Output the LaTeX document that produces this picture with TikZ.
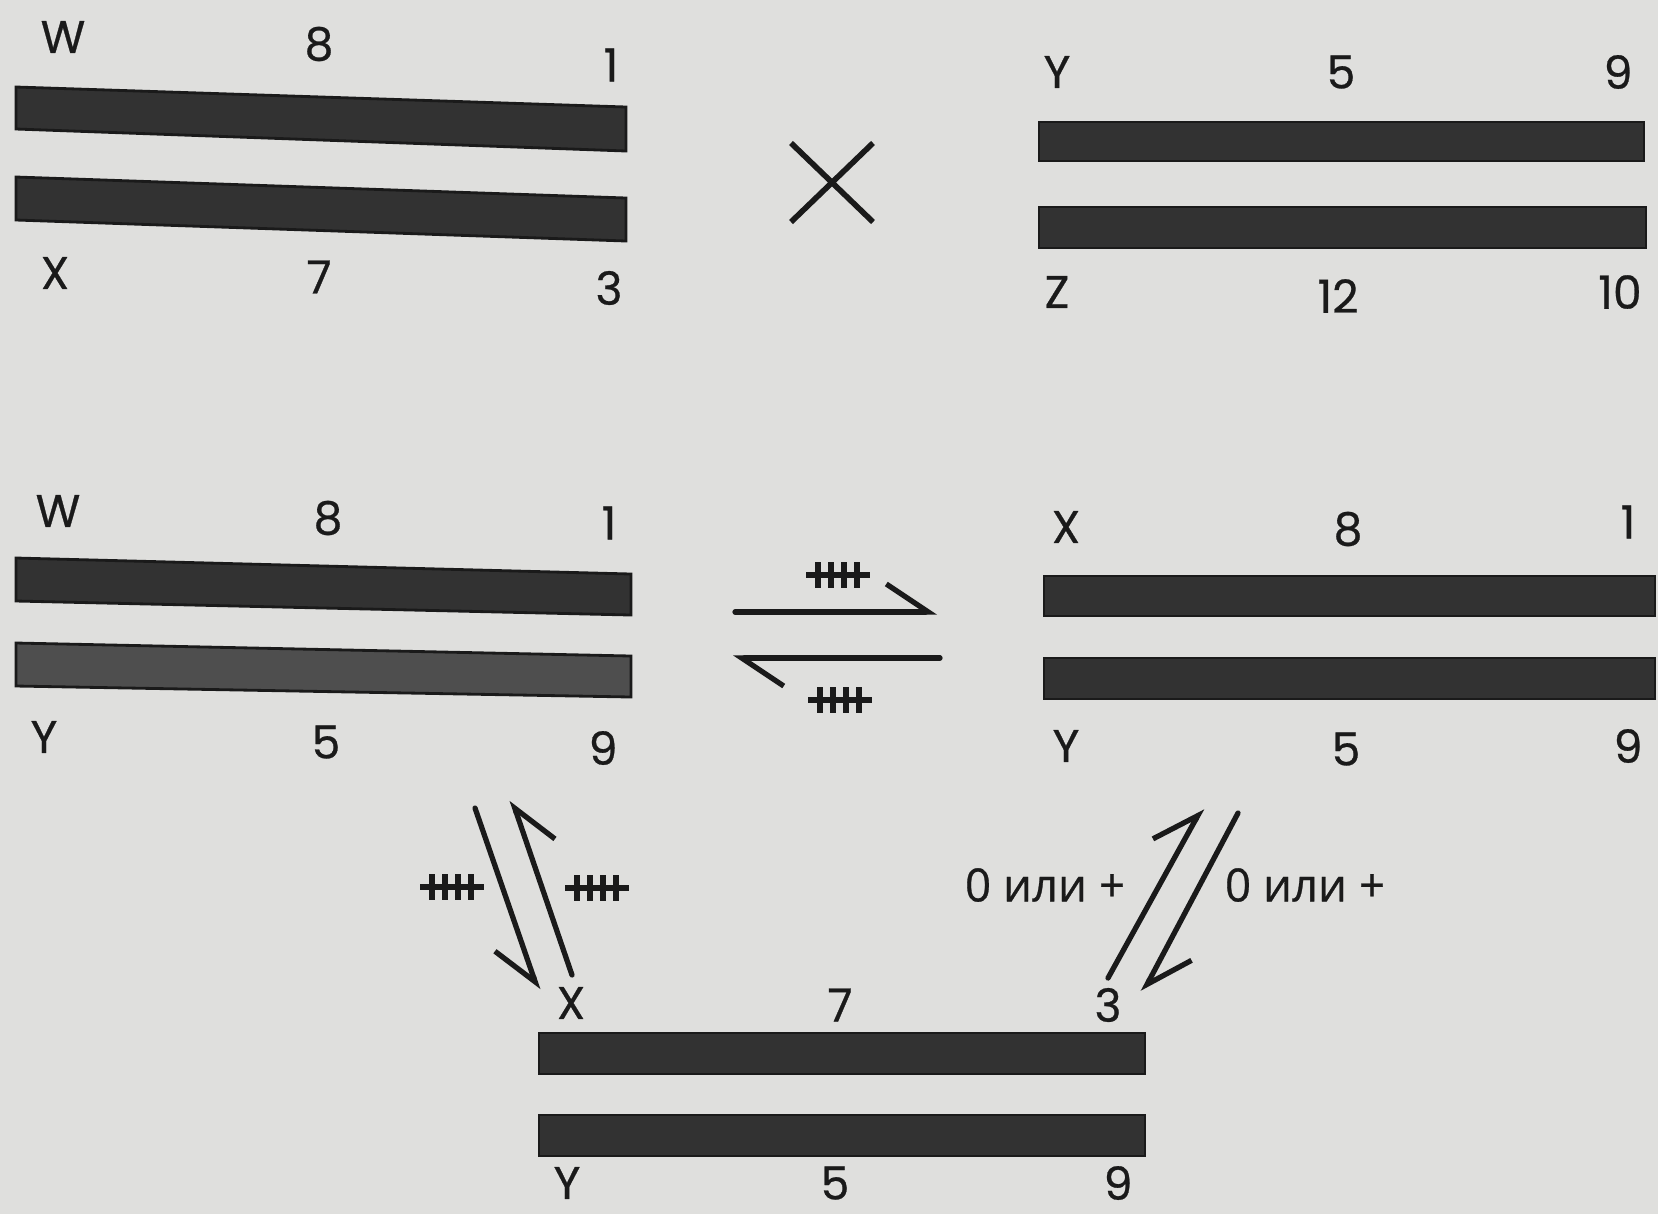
\documentclass[tikz,border=0pt]{standalone}
\usepackage{fontspec}
\setmainfont{Poppins}[FakeBold=0.6]
\newfontfamily\cyrfont{Open Sans}[FakeBold=0.6]
\usepackage{xcolor}
\usepackage{tikz}
\usetikzlibrary{arrows.meta}

\definecolor{paper}{RGB}{223,223,221}
\definecolor{ink}{RGB}{26,26,26}
\definecolor{chromo}{RGB}{50,50,50}
\definecolor{chromolight}{RGB}{78,78,78}

\begin{document}
\begin{tikzpicture}[x=0.01cm, y=-0.01cm]
    \tikzset{
        bar/.style={fill=chromo, draw=ink, line width=0.8pt},
        lbl/.style={font=\fontsize{13}{15}\selectfont, text=ink, inner sep=0pt},
        note/.style={font=\cyrfont\fontsize{13}{15}\selectfont, text=ink, inner sep=0pt},
        line/.style={draw=ink, line width=1.5pt, line cap=round, -{Straight Barb[harpoon, length=4.2mm, width=5.6mm]}},
        lineswap/.style={draw=ink, line width=1.5pt, line cap=round, -{Straight Barb[harpoon, swap, length=4.2mm, width=5.6mm]}},
        tally/.pic={
            \draw[ink, line width=1.6pt] (-32,0) -- (32,0);
            \foreach \dx in {-20,-7,6,19}
                \draw[ink, line width=1.6pt] (\dx,-13) -- (\dx,13);
        }
    }

    \fill[paper] (0,0) rectangle (1658,1214);

    % parents
    \path[bar] (16,87) -- (626,107) -- (626,151) -- (16,129) -- cycle;
    \path[bar] (16,177) -- (626,198) -- (626,241) -- (16,220) -- cycle;
    \node (wTL) [lbl] at (63,37) {W};
    \node (eightTL) [lbl] at (319,44) {8};
    \node (oneTL) [lbl] at (611,65) {1};
    \node (xTL) [lbl] at (55,273) {X};
    \node (sevenTL) [lbl] at (319,277) {7};
    \node (threeTL) [lbl] at (609,288) {3};

    \draw[ink, line width=1.6pt] (791,143) -- (873,222);
    \draw[ink, line width=1.6pt] (791,222) -- (873,143);

    \path[bar] (1039,122) rectangle (1644,161);
    \path[bar] (1039,207) rectangle (1646,248);
    \node (yTR) [lbl] at (1057,72) {Y};
    \node (fiveTR) [lbl] at (1341,72) {5};
    \node (nineTR) [lbl] at (1618,72) {9};
    \node (zTR) [lbl] at (1057,292) {Z};
    \node (twelveTR) [lbl] at (1338,296) {12};
    \node (tenTR) [lbl] at (1620,292) {10};

    % offspring
    \path[bar] (16,558) -- (631,574) -- (631,615) -- (16,601) -- cycle;
    \path[bar, fill=chromolight] (16,643) -- (631,656) -- (631,697) -- (16,686) -- cycle;
    \node (wML) [lbl] at (58,511) {W};
    \node (eightML) [lbl] at (328,518) {8};
    \node (oneML) [lbl] at (609,523) {1};
    \node (yML) [lbl] at (44,737) {Y};
    \node (fiveML) [lbl] at (326,742) {5};
    \node (nineML) [lbl] at (603,748) {9};

    \path[bar] (1044,576) rectangle (1655,616);
    \path[bar] (1044,658) rectangle (1655,699);
    \node (xMR) [lbl] at (1066,527) {X};
    \node (eightMR) [lbl] at (1348,529) {8};
    \node (oneMR) [lbl] at (1628,522) {1};
    \node (yMR) [lbl] at (1066,746) {Y};
    \node (fiveMR) [lbl] at (1346,749) {5};
    \node (nineMR) [lbl] at (1628,746) {9};

    \path[bar] (539,1033) rectangle (1145,1074);
    \path[bar] (539,1115) rectangle (1145,1156);
    \node (xB) [lbl] at (571,1003) {X};
    \node (sevenB) [lbl] at (840,1005) {7};
    \node (threeB) [lbl] at (1108,1005) {3};
    \node (yB) [lbl] at (567,1183) {Y};
    \node (fiveB) [lbl] at (835,1183) {5};
    \node (nineB) [lbl] at (1118,1183) {9};

    % arrows
    \coordinate (fwdS) at (735,612);
    \coordinate (fwdE) at (937,612);
    \coordinate (bckS) at (940,658);
    \coordinate (bckE) at (733,658);
    \coordinate (ldnS) at (475,808);
    \coordinate (ldnE) at (538,990);
    \coordinate (lupS) at (572,975);
    \coordinate (lupE) at (512,800);
    \coordinate (rupS) at (1108,978);
    \coordinate (rupE) at (1202,808);
    \coordinate (rdnS) at (1238,813);
    \coordinate (rdnE) at (1143,992);

    \path [line] (fwdS) -- (fwdE);
    \path [line] (bckS) -- (bckE);
    \path [lineswap] (ldnS) -- (ldnE);
    \path [lineswap] (lupS) -- (lupE);
    \path [line] (rupS) -- (rupE);
    \path [line] (rdnS) -- (rdnE);

    \pic at (838,575) {tally};
    \pic at (840,700) {tally};
    \pic at (452,887) {tally};
    \pic at (597,888) {tally};
    \node (orL) [note] at (1045,885) {0 или +};
    \node (orR) [note] at (1305,885) {0 или +};

\end{tikzpicture}
\end{document}
